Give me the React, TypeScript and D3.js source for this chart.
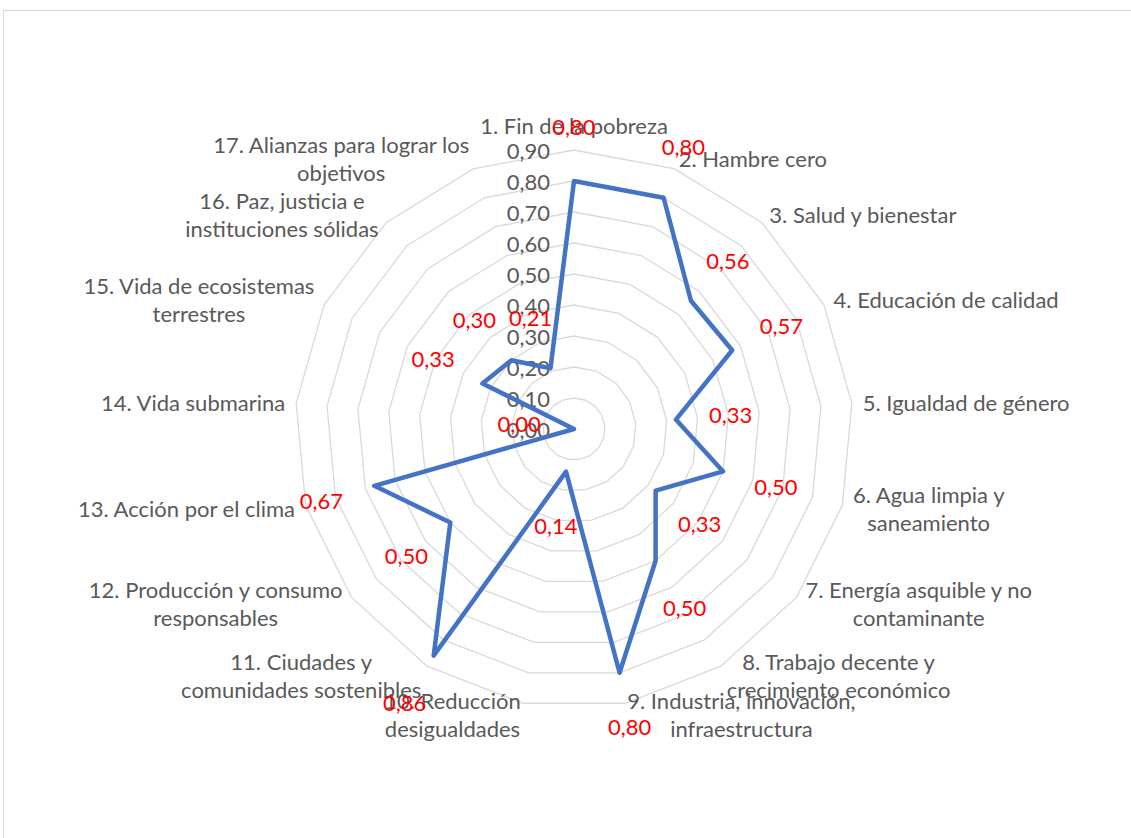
import React, { useEffect, useRef } from "react";
import * as d3 from "d3";

const categories: string[][] = [
  ["1. Fin de la pobreza"],
  ["2. Hambre cero"],
  ["3. Salud y bienestar"],
  ["4. Educación de calidad"],
  ["5. Igualdad de género"],
  ["6. Agua limpia y", "saneamiento"],
  ["7. Energía asquible y no", "contaminante"],
  ["8. Trabajo decente y", "crecimiento económico"],
  ["9. Industria, innovación,", "infraestructura"],
  ["10. Reducción", "desigualdades"],
  ["11. Ciudades y", "comunidades sostenibles"],
  ["12. Producción y consumo", "responsables"],
  ["13. Acción por el clima"],
  ["14. Vida submarina"],
  ["15. Vida de ecosistemas", "terrestres"],
  ["16. Paz, justicia e", "instituciones sólidas"],
  ["17. Alianzas para lograr los", "objetivos"],
];

const values: number[] = [
  0.8, 0.8, 0.56, 0.57, 0.33, 0.5, 0.33, 0.5, 0.8, 0.14, 0.86, 0.5, 0.67, 0.0, 0.33, 0.3, 0.21,
];

const ticks: number[] = [0, 0.1, 0.2, 0.3, 0.4, 0.5, 0.6, 0.7, 0.8, 0.9];

const W = 1131;
const H = 838;
const CX = 574;
const CY = 429;
const RMAX = 279;
const FONT = "Lato, 'Liberation Sans', sans-serif";
const FS = 22;
const LINE_H = 28;

export default function App() {
  const ref = useRef<SVGSVGElement | null>(null);

  useEffect(() => {
    const svg = d3.select(ref.current);
    svg.selectAll("*").remove();
    const n = categories.length;
    const r = d3.scaleLinear().domain([0, 0.9]).range([0, RMAX]);
    const ang = (i: number) => (i * 2 * Math.PI) / n;
    const px = (i: number, rad: number) => CX + rad * Math.sin(ang(i));
    const py = (i: number, rad: number) => CY - rad * Math.cos(ang(i));

    // border
    svg
      .append("rect")
      .attr("x", 3.5)
      .attr("y", 10.5)
      .attr("width", W + 20)
      .attr("height", H + 20)
      .attr("fill", "none")
      .attr("stroke", "#d9d9d9")
      .attr("stroke-width", 1);

    // grid rings
    const g = svg.append("g");
    ticks
      .filter((t) => t > 0)
      .forEach((t) => {
        const pts = d3.range(n).map((i) => [px(i, r(t)), py(i, r(t))] as [number, number]);
        g.append("path")
          .attr("d", d3.line().curve(d3.curveLinearClosed)(pts) as string)
          .attr("fill", "none")
          .attr("stroke", "#d9d9d9")
          .attr("stroke-width", 1.3);
      });

    // tick labels
    ticks.forEach((t) => {
      svg
        .append("text")
        .attr("x", CX - 24)
        .attr("y", CY - r(t))
        .attr("text-anchor", "end")
        .attr("dominant-baseline", "central")
        .attr("font-family", FONT)
        .attr("font-size", FS)
        .attr("fill", "#595959")
        .text(t.toFixed(2).replace(".", ","));
    });

    // series line
    const pts = values.map((v, i) => [px(i, r(v)), py(i, r(v))] as [number, number]);
    svg
      .append("path")
      .attr("d", d3.line().curve(d3.curveLinearClosed)(pts) as string)
      .attr("fill", "none")
      .attr("stroke", "#4472C4")
      .attr("stroke-width", 4.5)
      .attr("stroke-linejoin", "round");

    // category labels
    const LR = RMAX + 11;
    categories.forEach((lines, i) => {
      const ax = px(i, LR);
      const ay = py(i, LR);
      const s = Math.sin(ang(i));
      const grp = svg.append("g");
      const texts = lines.map((ln) =>
        grp
          .append("text")
          .attr("font-family", FONT)
          .attr("font-size", FS)
          .attr("fill", "#595959")
          .attr("dominant-baseline", "central")
          .attr("text-anchor", "middle")
          .text(ln)
      );
      const widths = texts.map((t) => (t.node() as SVGTextElement).getComputedTextLength());
      const bw = Math.max(...widths);
      let cx: number;
      let cyTop: number;
      const bh = lines.length * LINE_H;
      if (Math.abs(s) < 1e-6) {
        cx = ax;
        cyTop = ay - bh;
      } else {
        cx = s > 0 ? ax + bw / 2 : ax - bw / 2;
        cyTop = ay - bh / 2;
      }
      texts.forEach((t, k) => {
        t.attr("x", cx).attr("y", cyTop + LINE_H * (k + 0.5));
      });
    });

    // data labels
    values.forEach((v, i) => {
      const rr = r(v) + 55;
      svg
        .append("text")
        .attr("x", px(i, rr))
        .attr("y", py(i, rr))
        .attr("text-anchor", "middle")
        .attr("dominant-baseline", "central")
        .attr("font-family", FONT)
        .attr("font-size", FS)
        .attr("fill", "#FF0000")
        .text(v.toFixed(2).replace(".", ","));
    });
  }, []);

  return (
    <svg
      ref={ref}
      width={W}
      height={H}
      style={{ position: "absolute", left: 0, top: 0, background: "#fff" }}
    />
  );
}
